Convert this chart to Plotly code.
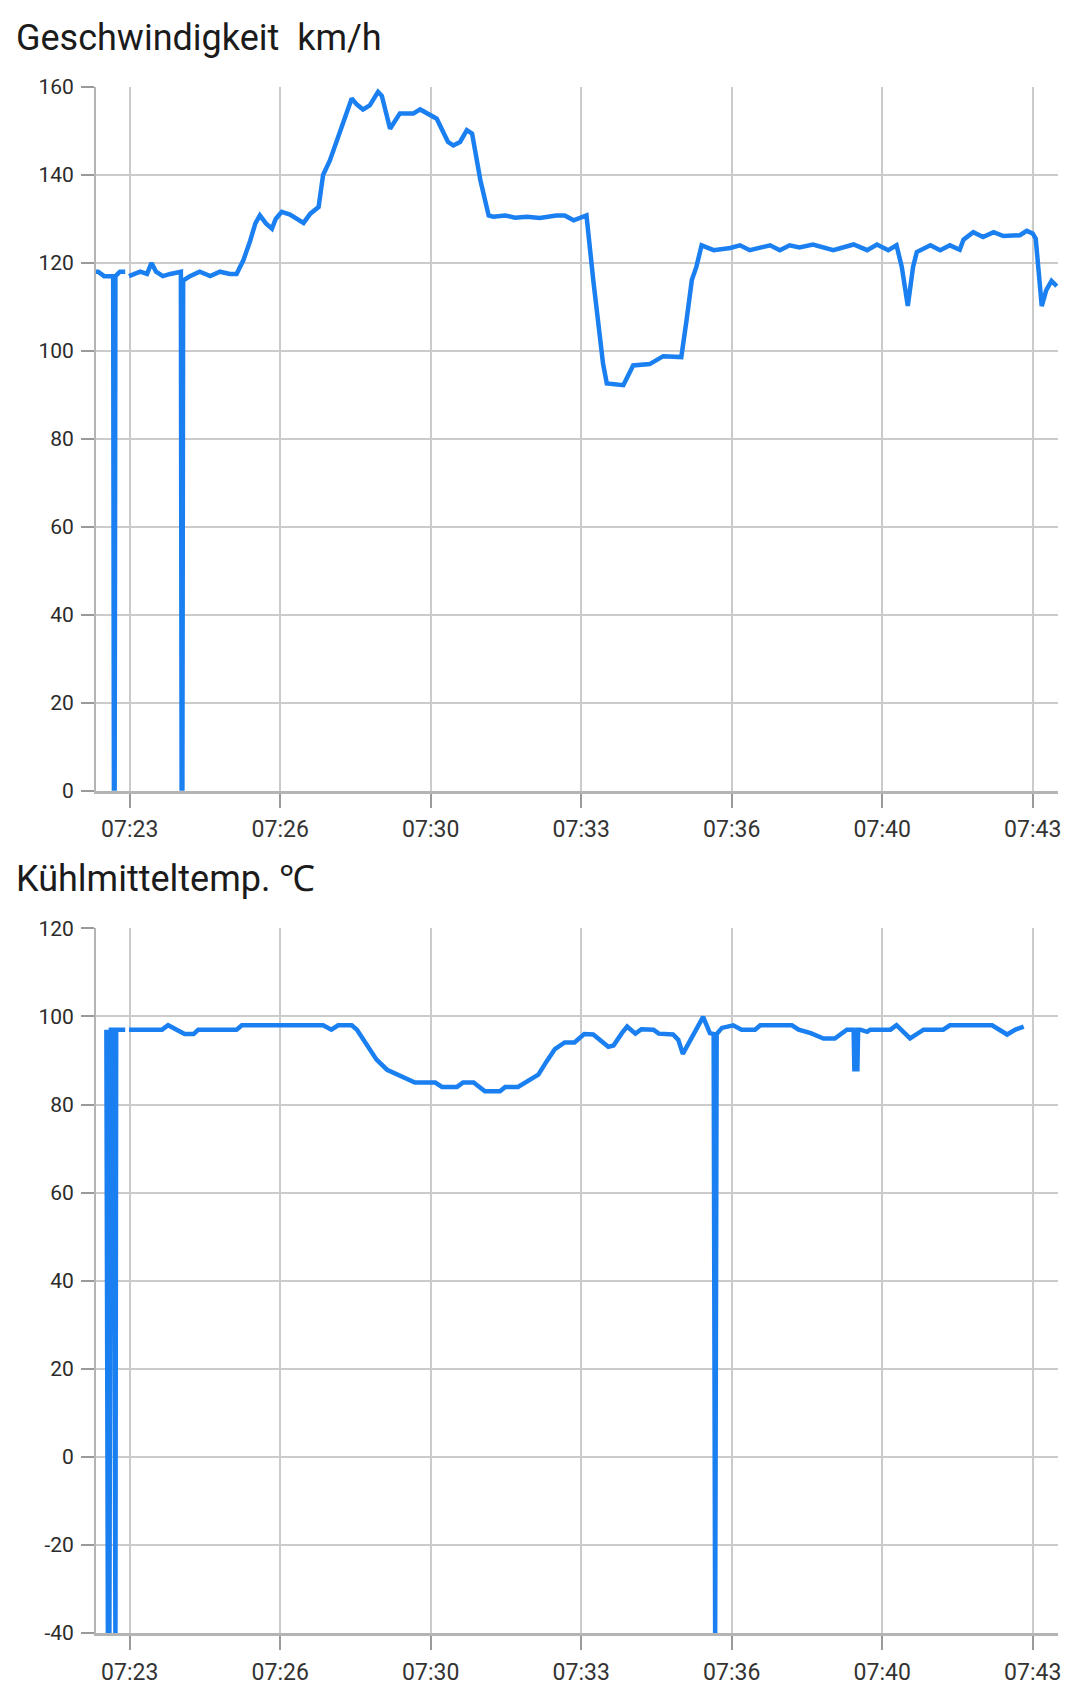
import plotly.graph_objects as go

DAY = "2024-01-01 "

# ---------------- Geschwindigkeit km/h ----------------
speed_times = [
    "07:22:35", "07:22:38", "07:22:46", "07:22:54", "07:22:58", "07:22:59", "07:23:00",
    "07:23:01", "07:23:07", "07:23:14", "07:23:16", "07:23:19", "07:23:27", "07:23:34",
    "07:23:43", "07:23:49", "07:23:55", "07:24:04", "07:24:14", "07:24:27", "07:24:28",
    "07:24:29", "07:24:30", "07:24:31", "07:24:40", "07:24:53", "07:25:07", "07:25:20",
    "07:25:33", "07:25:42", "07:25:51", "07:26:00", "07:26:07", "07:26:13", "07:26:21",
    "07:26:29", "07:26:34", "07:26:42", "07:26:53", "07:27:11", "07:27:20", "07:27:31",
    "07:27:37", "07:27:46", "07:27:56", "07:28:04", "07:28:15", "07:28:22", "07:28:30",
    "07:28:39", "07:28:50", "07:28:55", "07:29:06", "07:29:19", "07:29:37", "07:29:46",
    "07:29:59", "07:30:08", "07:30:23", "07:30:30", "07:30:39", "07:30:48", "07:30:55",
    "07:31:06", "07:31:17", "07:31:23", "07:31:39", "07:31:52", "07:32:08", "07:32:25",
    "07:32:47", "07:32:58", "07:33:10", "07:33:27", "07:33:36", "07:33:49", "07:33:54",
    "07:34:16", "07:34:29", "07:34:51", "07:35:09", "07:35:33", "07:35:40", "07:35:47",
    "07:35:53", "07:36:00", "07:36:16", "07:36:38", "07:36:51", "07:37:04", "07:37:31",
    "07:37:44", "07:37:57", "07:38:10", "07:38:28", "07:38:55", "07:39:22", "07:39:40",
    "07:39:53", "07:40:08", "07:40:19", "07:40:26", "07:40:34", "07:40:41", "07:40:46",
    "07:41:04", "07:41:17", "07:41:30", "07:41:43", "07:41:48", "07:42:01", "07:42:14",
    "07:42:28", "07:42:41", "07:43:03", "07:43:12", "07:43:20", "07:43:24", "07:43:32",
    "07:43:38", "07:43:45", "07:43:52",
]
speed_values = [
    118, 118, 117, 117, 117, 0, 0,
    117, 118, 118, None, 117, 117.5, 118,
    117.5, 120, 118, 117, 117.5, 118, 118,
    0, 0, 116, 117, 118, 117, 118,
    117.5, 117.5, 120.6, 125, 129, 130.8, 129,
    127.8, 130, 131.6, 131, 129.1, 131.2, 132.7,
    140, 143.3, 148, 152.4, 157.4, 156, 154.9,
    155.8, 158.9, 158, 150.5, 154, 154, 154.9,
    153.5, 152.8, 147.5, 146.7, 147.5, 150.2, 149.4,
    138.8, 130.8, 130.5, 130.8, 130.3, 130.5, 130.2,
    130.8, 130.8, 129.7, 130.8, 116.1, 97.1, 92.6,
    92.2, 96.7, 97, 98.8, 98.6, 107, 116.1,
    119.1, 124, 122.9, 123.4, 124, 122.9, 124,
    122.9, 124, 123.5, 124.2, 122.9, 124.2, 122.9,
    124.2, 122.9, 124, 119.1, 110.2, 119.1, 122.5,
    124, 122.9, 124, 123, 125.3, 127, 125.9,
    127, 126.1, 126.3, 127.3, 126.7, 125.5, 110.2,
    113.8, 115.9, 114.7,
]

# ---------------- Kühlmitteltemp. ℃ ----------------
temp_times = [
    "07:22:49", "07:22:51", "07:22:53", "07:22:55", "07:22:59", "07:23:01", "07:23:02",
    "07:23:07", "07:23:14", "07:23:16", "07:23:19", "07:24:03", "07:24:11", "07:24:22",
    "07:24:33", "07:24:45", "07:24:51", "07:25:42", "07:25:49", "07:27:37", "07:27:48",
    "07:27:57", "07:28:15", "07:28:22", "07:28:35", "07:28:48", "07:29:02", "07:29:13",
    "07:29:26", "07:29:39", "07:30:06", "07:30:15", "07:30:35", "07:30:43", "07:30:57",
    "07:31:12", "07:31:32", "07:31:39", "07:31:56", "07:32:08", "07:32:23", "07:32:34",
    "07:32:45", "07:32:58", "07:33:11", "07:33:24", "07:33:36", "07:33:56", "07:34:03",
    "07:34:14", "07:34:21", "07:34:32", "07:34:40", "07:34:56", "07:35:03", "07:35:22",
    "07:35:29", "07:35:35", "07:35:45", "07:36:02", "07:36:11", "07:36:16", "07:36:18",
    "07:36:20", "07:36:27", "07:36:42", "07:36:53", "07:37:11", "07:37:18", "07:38:00",
    "07:38:09", "07:38:25", "07:38:42", "07:38:57", "07:39:13", "07:39:22", "07:39:23",
    "07:39:27", "07:39:28", "07:39:31", "07:39:40", "07:39:44", "07:40:11", "07:40:19",
    "07:40:37", "07:40:55", "07:41:21", "07:41:30", "07:42:26", "07:42:46", "07:42:57",
    "07:43:08",
]
temp_values = [
    97, -40, -40, 97, 97, -40, 97,
    97, 97, None, 97, 97, 98, 97,
    96, 96, 97, 97, 98, 98, 97,
    98, 98, 97, 93.6, 90.2, 87.9, 87,
    86, 85, 85, 84, 84, 85, 85,
    83, 83, 84, 84, 85.2, 86.8, 89.8,
    92.6, 94.1, 94.1, 96, 95.9, 93.1, 93.4,
    96.2, 97.7, 96.1, 97.1, 97, 96.1, 95.9,
    94.7, 91.5, 94.7, 99.9, 96.2, 96, -40,
    96, 97.4, 98, 97, 97, 98, 98,
    97, 96.2, 95, 95, 97, 97, 88,
    88, 97, 97, 96.5, 97, 97, 98,
    95, 97, 97, 98, 98, 95.9, 97,
    97.7,
]

titles = ["Geschwindigkeit\u00a0 km/h", "Kühlmitteltemp. ℃"]
speed_ticks = [0, 20, 40, 60, 80, 100, 120, 140, 160]
speed_ticktext = ["0", "20", "40", "60", "80", "100", "120", "140", "160"]
temp_ticks = [-40, -20, 0, 20, 40, 60, 80, 100, 120]
temp_ticktext = ["-40", "-20", "0", "20", "40", "60", "80", "100", "120"]
y_ranges = [[0, 160], [-40, 120]]
x_range = ["07:22:35.2", "07:43:53.6"]
tick_start = "07:23:20"
tick_step_ms = 200000

LINE = "#1a7ff0"
GRID = "#cbcbcb"
AXIS = "#b4b4b4"
TICK = "#9a9a9a"
FONT = "Roboto"

fig = go.Figure()
fig.add_trace(go.Scatter(
    x=[DAY + t for t in speed_times], y=speed_values, mode="lines",
    line=dict(color=LINE, width=4.5), connectgaps=False,
    xaxis="x", yaxis="y", showlegend=False))
fig.add_trace(go.Scatter(
    x=[DAY + t for t in temp_times], y=temp_values, mode="lines",
    line=dict(color=LINE, width=4.5), connectgaps=False,
    xaxis="x2", yaxis="y2", showlegend=False))

# page body has an 8px default margin; figure sized to fit the 1080x1708 window
OFF = 8
W, H = 1080 - 2 * OFF, 1708 - 2 * OFF
ml = 96 - OFF
mt = 86.7 - OFF
plot_right = 1058 - OFF
plot_bottom = 1633.3 - OFF
mr = W - plot_right
mb = H - plot_bottom
ph = H - mt - mb
top_bottom_px = 790.7 - OFF
bot_top_px = 928.4 - OFF
top_dom = [(H - mb - top_bottom_px) / ph, 1.0]
bot_dom = [0.0, (H - mb - bot_top_px) / ph]

xcommon = dict(
    type="date", range=[DAY + x_range[0], DAY + x_range[1]],
    tick0=DAY + tick_start, dtick=tick_step_ms, tickformat="%H:%M",
    showgrid=True, gridcolor=GRID, gridwidth=1.5,
    showline=True, linecolor=AXIS, linewidth=3,
    ticks="outside", ticklen=14, tickwidth=2, tickcolor=TICK,
    tickfont=dict(family=FONT, size=23, color="#333333"),
    ticklabelstandoff=2, zeroline=False, fixedrange=True,
)
ycommon = dict(
    showgrid=True, gridcolor=GRID, gridwidth=1.5,
    showline=True, linecolor=AXIS, linewidth=2,
    ticks="outside", ticklen=13, tickwidth=1.5, tickcolor=TICK,
    tickfont=dict(family=FONT, size=21, color="#2b2b2b"),
    ticklabelstandoff=3, zeroline=False, fixedrange=True,
    tickmode="array",
)

fig.update_layout(
    width=W, height=H,
    margin=dict(l=ml, r=mr, t=mt, b=mb),
    paper_bgcolor="white", plot_bgcolor="white",
    xaxis=dict(domain=[0, 1], anchor="y", **xcommon),
    yaxis=dict(domain=top_dom, anchor="x", range=y_ranges[0],
               tickvals=speed_ticks, ticktext=speed_ticktext, **ycommon),
    xaxis2=dict(domain=[0, 1], anchor="y2", **xcommon),
    yaxis2=dict(domain=bot_dom, anchor="x2", range=y_ranges[1],
                tickvals=temp_ticks, ticktext=temp_ticktext, **ycommon),
    font=dict(family=FONT, color="#1b1b1b"),
)

pw = W - ml - mr
for title, plot_top in zip(titles, [mt, bot_top_px]):
    ypx = plot_top - 49
    fig.add_annotation(
        text=title, xref="paper", yref="paper",
        x=(6 - ml) / pw, y=(H - mb - ypx) / ph,
        xanchor="left", yanchor="middle", showarrow=False,
        font=dict(family=FONT, size=36, color="#1b1b1b"),
    )

fig.write_html("out.html")
